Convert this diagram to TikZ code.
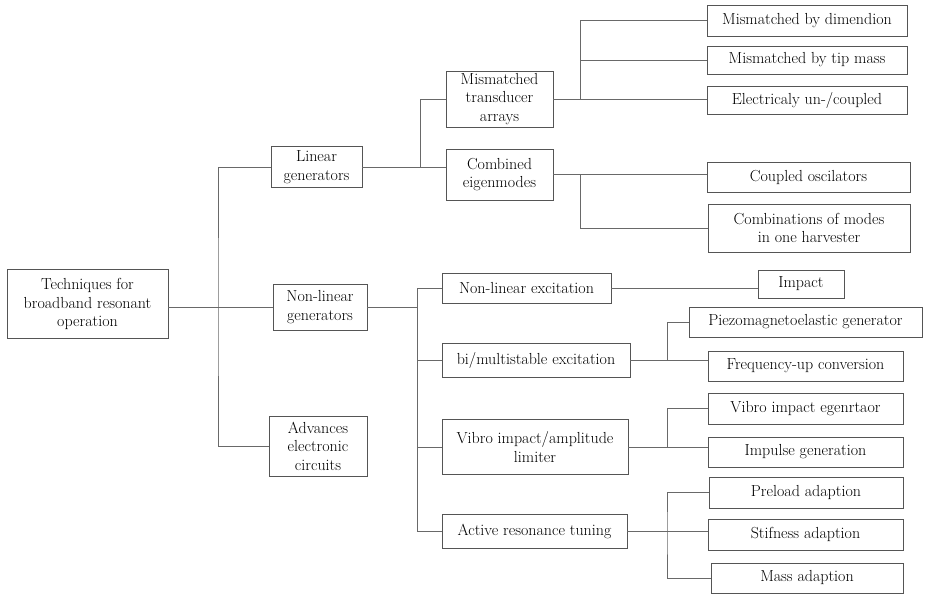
\documentclass[tikz,border=0pt]{standalone}
\usepackage{tikz}
\usetikzlibrary{positioning,calc}
\definecolor{boxGray}{RGB}{85,85,85}
\definecolor{lineGray}{RGB}{105,105,105}

\begin{document}
\begin{tikzpicture}[
  x=1pt, y=-1pt,
  box/.style={draw=boxGray, line width=0.8pt, align=center, inner sep=2pt, font=\fontsize{16}{18.5}\selectfont},
  link/.style={draw=lineGray, line width=0.8pt}
]
  \useasboundingbox (0,0) rectangle (931,594);

  % root and first level
  \node[box, minimum width=161, minimum height=69] (root)   at (87.5,304) {Techniques for\\broadband resonant\\operation};
  \node[box, minimum width=91,  minimum height=41] (lin)    at (316.5,167) {Linear\\generators};
  \node[box, minimum width=94,  minimum height=46] (nonlin) at (320,307) {Non-linear\\generators};
  \node[box, minimum width=98,  minimum height=60] (adv)    at (318,446) {Advances\\electronic\\circuits};

  % linear branch
  \node[box, minimum width=107, minimum height=56] (mta) at (499.5,99)  {Mismatched\\transducer\\arrays};
  \node[box, minimum width=107, minimum height=51] (cem) at (499.5,174.5) {Combined\\eigenmodes};

  \node[box, minimum width=200, minimum height=31] (dim) at (807,20.5) {Mismatched by dimendion};
  \node[box, minimum width=200, minimum height=28] (tip) at (807,60)   {Mismatched by tip mass};
  \node[box, minimum width=200, minimum height=28] (ele) at (807,100)  {Electricaly un-/coupled};
  \node[box, minimum width=203, minimum height=30] (cos) at (808.5,177) {Coupled oscilators};
  \node[box, minimum width=202, minimum height=48] (com) at (809,228)  {Combinations of modes\\in one harvester};

  % non-linear branch
  \node[box, minimum width=169, minimum height=30] (nle) at (526.5,288) {Non-linear excitation};
  \node[box, minimum width=188, minimum height=34] (bim) at (536,360)   {bi/multistable excitation};
  \node[box, minimum width=186, minimum height=55] (vib) at (535,447)   {Vibro impact/amplitude\\limiter};
  \node[box, minimum width=185, minimum height=34] (art) at (534.5,531) {Active resonance tuning};

  \node[box, minimum width=86,  minimum height=28] (imp) at (801,284)   {Impact};
  \node[box, minimum width=233, minimum height=30] (pze) at (805.5,322) {Piezomagnetoelastic generator};
  \node[box, minimum width=195, minimum height=30] (fuc) at (805.5,366) {Frequency-up conversion};
  \node[box, minimum width=195, minimum height=31] (vig) at (805.5,408.5) {Vibro impact egenrtaor};
  \node[box, minimum width=195, minimum height=30] (ipg) at (805.5,452) {Impulse generation};
  \node[box, minimum width=194, minimum height=31] (pra) at (806,492.5) {Preload adaption};
  \node[box, minimum width=195, minimum height=31] (sta) at (805.5,534.5) {Stifness adaption};
  \node[box, minimum width=192, minimum height=30] (maa) at (807,578)   {Mass adaption};

  % junction columns
  \coordinate (t1) at (218,307);
  \coordinate (b2) at (420,0);
  \coordinate (b3) at (580,0);
  \coordinate (b4) at (417,0);
  \coordinate (b5) at (667,0);

  % first level connectors
  \draw[link] (root.east |- nonlin.west) -- (nonlin.west);
  \draw[link] (lin.west) -| (t1) |- (adv.west);

  % linear generators
  \draw[link] (lin.east) -- (cem.west |- lin.east);
  \draw[link] (mta.west) -| (b2 |- lin.east);
  \draw[link] (mta.east) -- (ele.west |- mta.east);
  \draw[link] (dim.west) -| (b3 |- mta.east);
  \draw[link] (tip.west) -- (b3 |- tip.west);
  \draw[link] (cem.east) -- (cos.west |- cem.east);
  \draw[link] (com.west) -| (b3 |- cem.east);

  % non-linear generators
  \draw[link] (nonlin.east) -- (b4 |- nonlin.east);
  \draw[link] (nle.west) -| (b4 |- art.west) -- (art.west);
  \draw[link] (bim.west) -- (b4 |- bim.west);
  \draw[link] (vib.west) -- (b4 |- vib.west);
  \draw[link] (nle.east) -- (imp.west |- nle.east);
  \draw[link] (bim.east) -- (fuc.west |- bim.east);
  \draw[link] (pze.west) -| (b5 |- bim.east);
  \draw[link] (vib.east) -- (ipg.west |- vib.east);
  \draw[link] (vig.west) -| (b5 |- vib.east);
  \draw[link] (art.east) -- (sta.west |- art.east);
  \draw[link] (pra.west) -| (b5 |- art.east) |- (maa.west);
\end{tikzpicture}
\end{document}
